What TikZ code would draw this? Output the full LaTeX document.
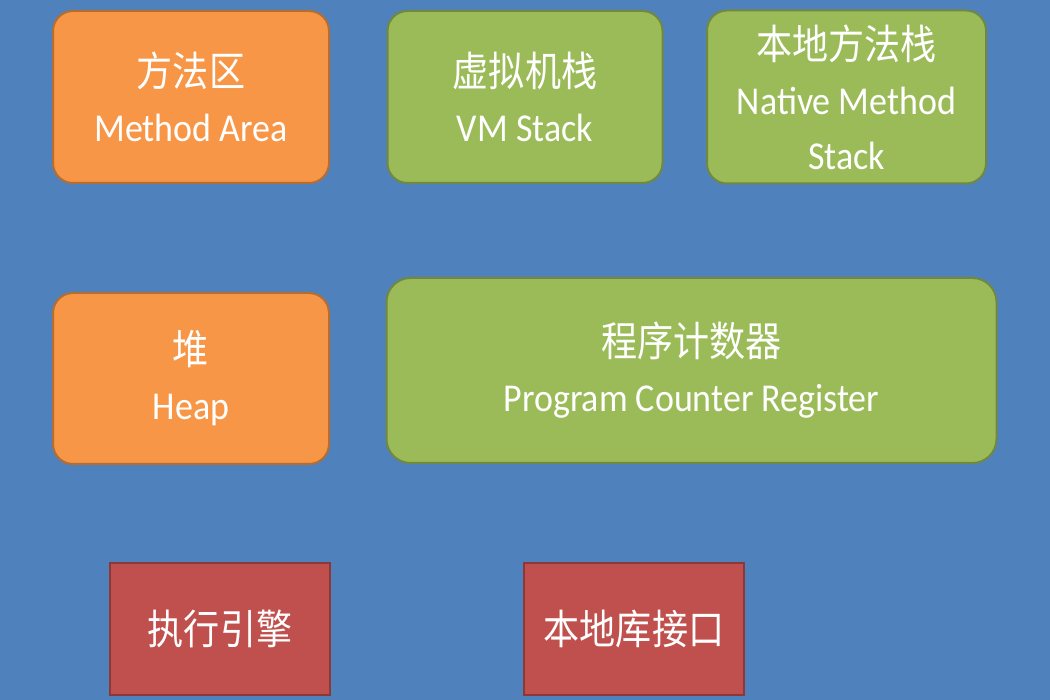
\documentclass[tikz,border=0pt]{standalone}
\usepackage{fontspec}
\setmainfont[FakeStretch=0.91]{Carlito}
\newfontfamily\cjk[FakeStretch=0.88]{Noto Sans CJK SC}
\definecolor{bgblue}{HTML}{4F81BD}
\definecolor{orfill}{HTML}{F79646}
\definecolor{ordraw}{HTML}{B66D31}
\definecolor{grfill}{HTML}{9BBB59}
\definecolor{grdraw}{HTML}{71893F}
\definecolor{rdfill}{HTML}{C0504D}
\definecolor{rddraw}{HTML}{8C3836}
\tikzset{
  box/.style={rectangle, rounded corners=20pt, line width=2pt, text=white, align=center, inner sep=0pt,
    font=\fontsize{39.5}{55}\selectfont},
  orbox/.style={box, fill=orfill, draw=ordraw},
  grbox/.style={box, fill=grfill, draw=grdraw},
  rdbox/.style={box, rounded corners=0pt, fill=rdfill, draw=rddraw},
}
\newcommand{\zh}[1]{{\cjk\fontsize{41}{55}\selectfont #1}}
\begin{document}
\begin{tikzpicture}[x=1pt,y=-1pt]
\fill[bgblue] (0,0) rectangle (1050,700);
\useasboundingbox (0,0) rectangle (1050,700);
\node[orbox, minimum width=276pt, minimum height=172pt] (ma) at (191,97) {\zh{方法区}\\Method Area};
\node[grbox, minimum width=275pt, minimum height=172pt] (vm) at (525,97) {\zh{虚拟机栈}\\VM Stack};
\node[grbox, minimum width=279pt, minimum height=173pt] (nms) at (846.5,97) {\zh{本地方法栈}\\Native Method\\Stack};
\node[orbox, minimum width=276pt, minimum height=171pt] (heap) at (191,378.5) {\zh{堆}\\Heap};
\node[grbox, rounded corners=24pt, minimum width=610pt, minimum height=185pt] (pc) at (691.5,370.5) {\zh{程序计数器}\\Program Counter Register};
\node[rdbox, minimum width=220pt, minimum height=132pt] (ee) at (220,629) {\zh{执行引擎}};
\node[rdbox, minimum width=220pt, minimum height=132pt] (nli) at (634,629) {\zh{本地库接口}};
\end{tikzpicture}
\end{document}
